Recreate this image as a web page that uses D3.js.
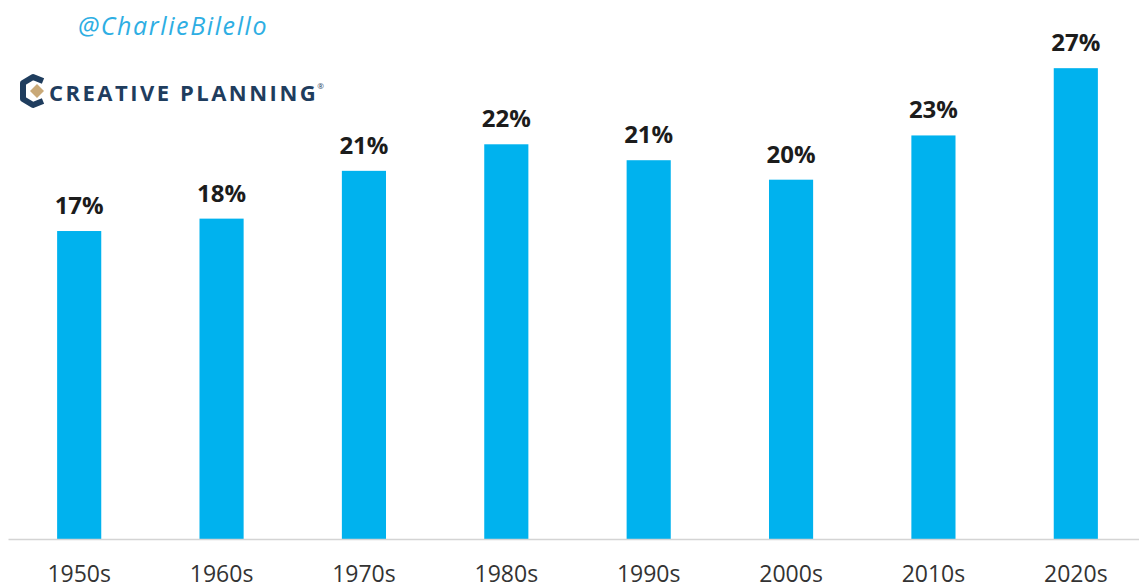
<!DOCTYPE html>
<html>
<head>
<meta charset="utf-8">
<script src="https://cdn.jsdelivr.net/npm/d3@7"></script>
<style>
  html, body { margin: 0; padding: 0; background: #fff; }
  svg { display: block; }
</style>
</head>
<body>
<svg id="chart" width="1139" height="588"></svg>
<script>
// decades on the x axis
const decades = ['1950s', '1960s', '1970s', '1980s', '1990s', '2000s', '2010s', '2020s'];
// bar values (percent)
const values = [17.4, 18.1, 20.8, 22.3, 21.4, 20.3, 22.8, 26.6];
// labels printed over the bars
const valueLabels = ['17%', '18%', '21%', '22%', '21%', '20%', '23%', '27%'];

const svg = d3.select('#chart');
const baseY = 539;

const x = d3.scaleBand()
    .domain(decades)
    .range([8, 1147])
    .paddingInner(0.69)
    .paddingOuter(0.345);

const y = d3.scaleLinear()
    .domain([0, 30])
    .range([baseY, baseY - 531]);

// bars
svg.append('g')
    .selectAll('rect')
    .data(values)
    .enter()
    .append('rect')
    .attr('x', (d, i) => x(decades[i]))
    .attr('y', d => y(d))
    .attr('width', x.bandwidth())
    .attr('height', d => y(0) - y(d))
    .attr('fill', '#00b2ee');

// value labels
svg.append('g')
    .selectAll('text')
    .data(values)
    .enter()
    .append('text')
    .attr('x', (d, i) => x(decades[i]) + x.bandwidth() / 2)
    .attr('y', d => y(d) - 17)
    .attr('text-anchor', 'middle')
    .style('font-family', '"Open Sans", sans-serif')
    .style('font-weight', 700)
    .style('font-size', '24px')
    .style('fill', '#1c1c1c')
    .text((d, i) => valueLabels[i]);

// x axis
const xAxis = svg.append('g')
    .attr('transform', `translate(0,${baseY})`)
    .call(d3.axisBottom(x).tickSize(0).tickPadding(27));
xAxis.select('.domain').attr('stroke', '#d4d4d4').attr('stroke-width', 1.5);
xAxis.selectAll('text')
    .style('font-family', '"Open Sans", sans-serif')
    .style('font-size', '23px')
    .style('fill', '#333');

// watermark / logo
svg.append('text')
    .attr('x', 78)
    .attr('y', 35)
    .style('font-family', '"Open Sans", sans-serif')
    .style('font-style', 'italic')
    .style('font-size', '25px')
    .style('letter-spacing', '1.6px')
    .style('fill', '#2eaee3')
    .text('@CharlieBilello');

const logo = svg.append('g');
logo.append('path')
    .attr('d', 'M43,81 L33,77 L23,83 L23,99 L33,105 L43,101')
    .attr('fill', 'none')
    .attr('stroke', '#1f3d5e')
    .attr('stroke-width', 6)
    .attr('stroke-linejoin', 'round');
logo.append('path')
    .attr('d', 'M37,84 L44,91 L37,98 L30,91 Z')
    .attr('fill', '#c9a978');
const brand = logo.append('text')
    .attr('x', 49)
    .attr('y', 101)
    .style('font-family', '"Open Sans", sans-serif')
    .style('font-weight', 700)
    .style('font-size', '22px')
    .style('letter-spacing', '2.5px')
    .style('fill', '#1f3d5e')
    .text('CREATIVE PLANNING');
const bb = brand.node().getBBox();
logo.append('text')
    .attr('x', bb.x + bb.width - 1)
    .attr('y', 89)
    .style('font-family', '"Open Sans", sans-serif')
    .style('font-size', '8px')
    .style('fill', '#1f3d5e')
    .text('®');
</script>
</body>
</html>
